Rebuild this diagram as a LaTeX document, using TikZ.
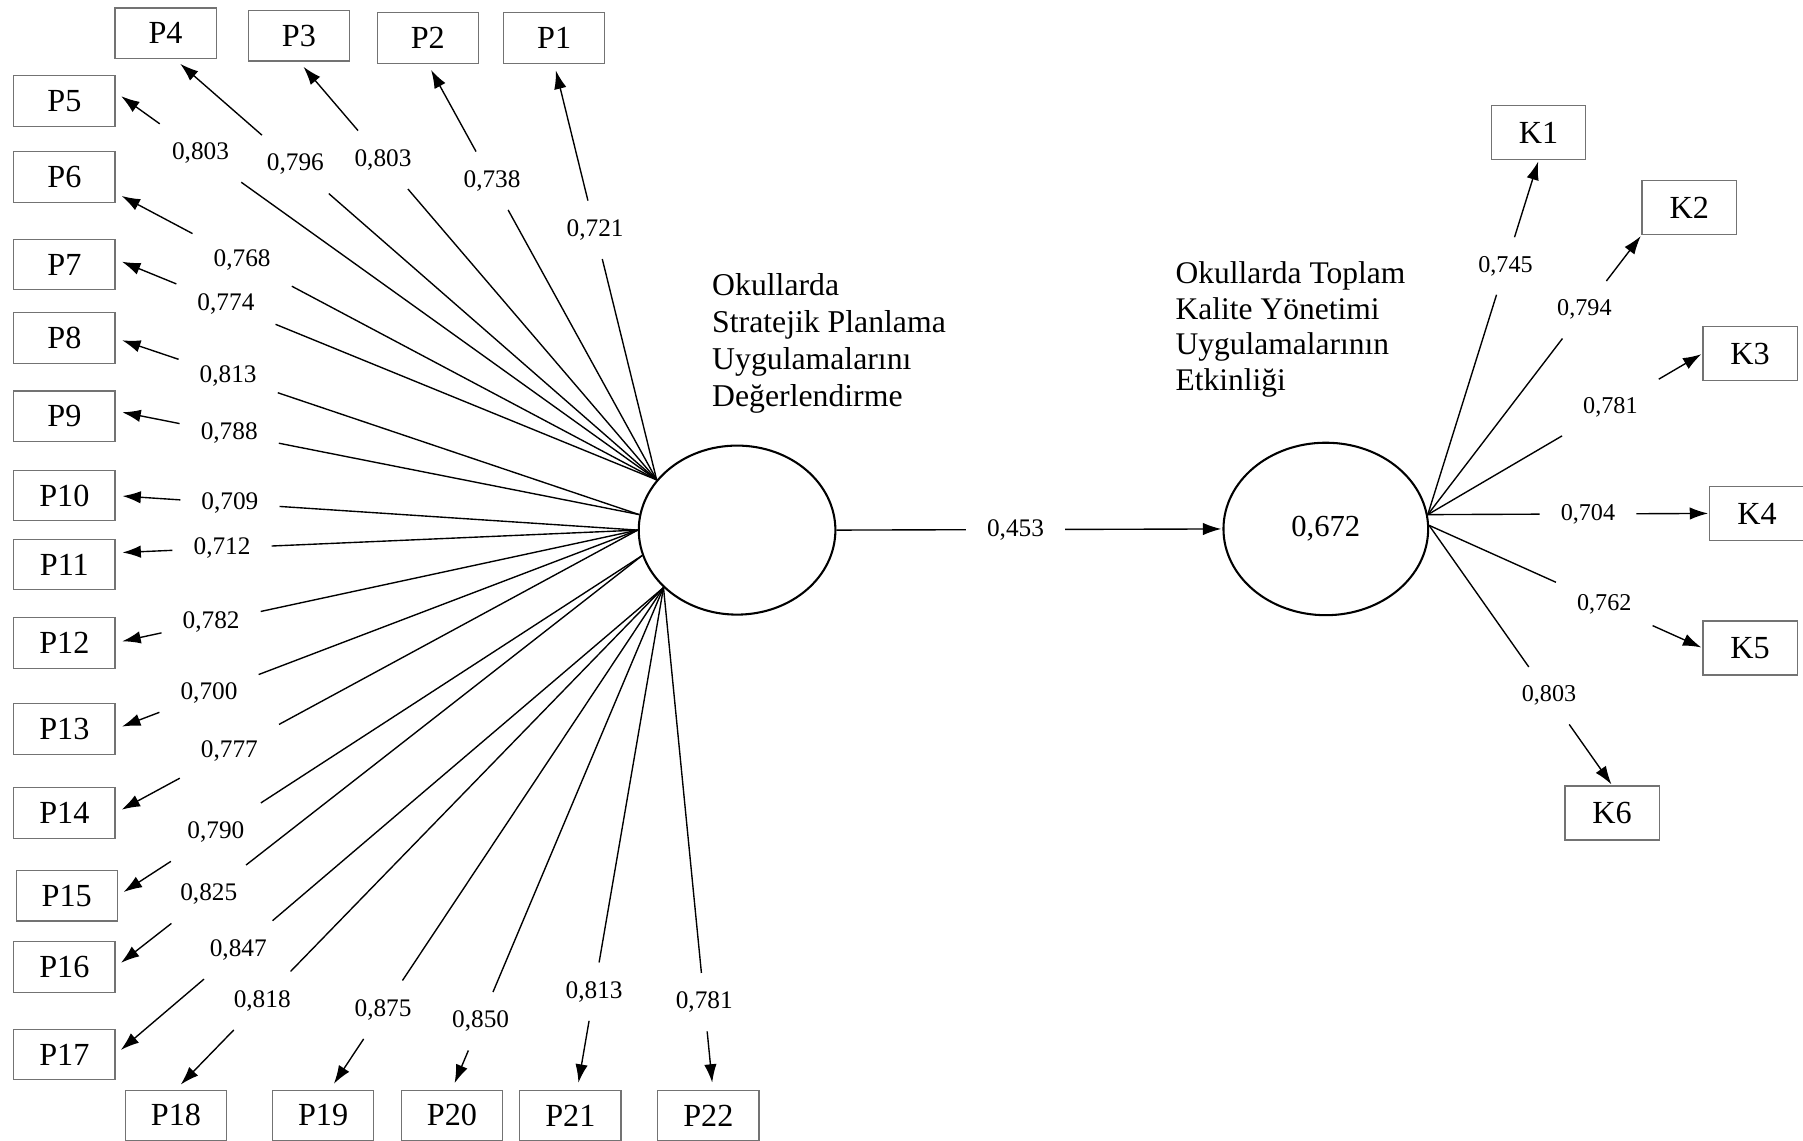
\documentclass[tikz,border=0pt]{standalone}
\usepackage{fontspec}
\setmainfont{Liberation Serif}
\usetikzlibrary{arrows.meta, shapes.geometric, calc}

\begin{document}
\begin{tikzpicture}[
    x=0.5pt, y=-0.5pt,
    ind/.style={rectangle, draw=black!55, line width=0.5pt, minimum width=44pt,
                minimum height=22pt, inner sep=0pt, font=\fontsize{14}{16}\selectfont},
    kind/.style={ind, minimum width=41pt, minimum height=23.5pt},
    lat/.style={ellipse, draw, line width=0.9pt, inner sep=0pt},
    load/.style={inner xsep=9pt, inner ysep=8pt, font=\fontsize{11}{12}\selectfont},
    kload/.style={load, font=\fontsize{10.5}{12}\selectfont},
    ttl/.style={align=left, inner sep=0pt, anchor=north west},
    ln/.style={line width=0.6pt},
    arr/.style={ln, -{Latex[length=8pt, width=5.4pt]}, shorten >=3pt},
    karr/.style={arr, shorten >=0.5pt},
]
\useasboundingbox (0,0) rectangle (1568,992);

% Latent variables
\node[lat, minimum width=85.5pt, minimum height=73.5pt] (lv) at (641,461) {};
\node[lat, minimum width=89pt, minimum height=75pt, font=\fontsize{13.3}{15}\selectfont] (lv2) at (1153,460) {0,672};

\node[ttl, font=\fontsize{13.8}{16.2}\selectfont] (t1) at (619,237) {Okullarda\\Stratejik Planlama\\Uygulamalarını\\Değerlendirme};
\node[ttl, font=\fontsize{13.7}{15.5}\selectfont] (t2) at (1022,227) {Okullarda Toplam\\Kalite Yönetimi\\Uygulamalarının\\Etkinliği};

% Path
\node[load] (w0) at ($(lv.east)!.464!(lv2.west)$) {0,453};
\draw[ln] (lv.east) -- (w0);
\draw[karr] (w0) -- (lv2.west);

% Indicators P
\node[ind] (p1) at (482,33) {P1};
\node[ind] (p2) at (372,33) {P2};
\node[ind] (p3) at (260,31) {P3};
\node[ind] (p4) at (144,29) {P4};
\node[ind] (p5) at (56,88) {P5};
\node[ind] (p6) at (56,154) {P6};
\node[ind] (p7) at (56,230) {P7};
\node[ind] (p8) at (56,294) {P8};
\node[ind] (p9) at (56,362) {P9};
\node[ind] (p10) at (56,431) {P10};
\node[ind] (p11) at (56,491) {P11};
\node[ind] (p12) at (56,559) {P12};
\node[ind] (p13) at (56,634) {P13};
\node[ind] (p14) at (56,707) {P14};
\node[ind] (p15) at (58,779) {P15};
\node[ind] (p16) at (56,841) {P16};
\node[ind] (p17) at (56,917) {P17};
\node[ind] (p18) at (153,970) {P18};
\node[ind] (p19) at (281,970) {P19};
\node[ind] (p20) at (393,970) {P20};
\node[ind] (p21) at (496,970) {P21};
\node[ind] (p22) at (616,970) {P22};

% Loadings P
\node[load] (w1) at ($(lv.148)!.601!(p1.south)$) {0,721};
\draw[ln] (lv.148) -- (w1);
\draw[arr] (w1) -- (p1.south);
\node[load] (w2) at ($(lv.148)!.719!(p2.south)$) {0,738};
\draw[ln] (lv.148) -- (w2);
\draw[arr] (w2) -- (p2.south);
\node[load] (w3) at ($(lv.148)!.765!(p3.south)$) {0,803};
\draw[ln] (lv.148) -- (w3);
\draw[arr] (w3) -- (p3.south);
\node[load] (w4) at ($(lv.148)!.750!(p4.-70)$) {0,796};
\draw[ln] (lv.148) -- (w4);
\draw[arr] (w4) -- (p4.-70);
\node[load] (w5) at ($(lv.148)!.843!(p5.10)$) {0,803};
\draw[ln] (lv.148) -- (w5);
\draw[arr] (w5) -- (p5.10);
\node[load] (w6) at ($(lv.148)!.766!(p6.-17)$) {0,768};
\draw[ln] (lv.148) -- (w6);
\draw[arr] (w6) -- (p6.-17);
\node[load] (w7) at ($(lv.148)!.796!(p7.6)$) {0,774};
\draw[ln] (lv.148) -- (w7);
\draw[arr] (w7) -- (p7.6);
\node[load] (w8) at ($(lv.171)!.785!(p8.east)$) {0,813};
\draw[ln] (lv.171) -- (w8);
\draw[arr] (w8) -- (p8.east);
\node[load] (w9) at ($(lv.171)!.783!(p9.6)$) {0,788};
\draw[ln] (lv.171) -- (w9);
\draw[arr] (w9) -- (p9.6);
\node[load] (w10) at ($(lv.180)!.781!(p10.east)$) {0,709};
\draw[ln] (lv.180) -- (w10);
\draw[arr] (w10) -- (p10.east);
\node[load] (w11) at ($(lv.180)!.796!(p11.13)$) {0,712};
\draw[ln] (lv.180) -- (w11);
\draw[arr] (w11) -- (p11.13);
\node[load] (w12) at ($(lv.180)!.817!(p12.east)$) {0,782};
\draw[ln] (lv.180) -- (w12);
\draw[arr] (w12) -- (p12.east);
\node[load] (w13) at ($(lv.180)!.821!(p13.east)$) {0,700};
\draw[ln] (lv.180) -- (w13);
\draw[arr] (w13) -- (p13.east);
\node[load] (w14) at ($(lv.180)!.782!(p14.east)$) {0,777};
\draw[ln] (lv.180) -- (w14);
\draw[arr] (w14) -- (p14.east);
\node[load] (w15) at ($(lv.195)!.813!(p15.east)$) {0,790};
\draw[ln] (lv.195) -- (w15);
\draw[arr] (w15) -- (p15.east);
\node[load] (w16) at ($(lv.195)!.823!(p16.east)$) {0,825};
\draw[ln] (lv.195) -- (w16);
\draw[arr] (w16) -- (p16.east);
\node[load] (w17) at ($(lv.218)!.776!(p17.east)$) {0,847};
\draw[ln] (lv.218) -- (w17);
\draw[arr] (w17) -- (p17.east);
\node[load] (w18) at ($(lv.218)!.823!(p18.north)$) {0,818};
\draw[ln] (lv.218) -- (w18);
\draw[arr] (w18) -- (p18.north);
\node[load] (w19) at ($(lv.218)!.841!(p19.75)$) {0,875};
\draw[ln] (lv.218) -- (w19);
\draw[arr] (w19) -- (p19.75);
\node[load] (w20) at ($(lv.218)!.864!(p20.north)$) {0,850};
\draw[ln] (lv.218) -- (w20);
\draw[arr] (w20) -- (p20.north);
\node[load] (w21) at ($(lv.218)!.805!(p21.75)$) {0,813};
\draw[ln] (lv.218) -- (w21);
\draw[arr] (w21) -- (p21.75);
\node[load] (w22) at ($(lv.218)!.826!(p22.80)$) {0,781};
\draw[ln] (lv.218) -- (w22);
\draw[arr] (w22) -- (p22.80);

% Indicators K
\node[kind] (k1) at (1338,115.5) {K1};
\node[kind] (k2) at (1469,180.5) {K2};
\node[kind] (k3) at (1522,307.5) {K3};
\node[kind] (k4) at (1528,446.5) {K4};
\node[kind] (k5) at (1522,563.5) {K5};
\node[kind] (k6) at (1402,707) {K6};

% Loadings K
\node[kload] (v1) at ($(lv2.8)!.702!(k1.south)$) {0,745};
\draw[ln] (lv2.8) -- (v1);
\draw[karr] (v1) -- (k1.south);
\node[kload] (v2) at ($(lv2.8)!.733!(k2.south west)$) {0,794};
\draw[ln] (lv2.8) -- (v2);
\draw[karr] (v2) -- (k2.south west);
\node[kload] (v3) at ($(lv2.8)!.665!(k3.west)$) {0,781};
\draw[ln] (lv2.8) -- (v3);
\draw[karr] (v3) -- (k3.west);
\node[kload] (v4) at ($(lv2.8)!.569!(k4.west)$) {0,704};
\draw[ln] (lv2.8) -- (v4);
\draw[karr] (v4) -- (k4.west);
\node[kload] (v5) at ($(lv2.2)!.641!(k5.west)$) {0,762};
\draw[ln] (lv2.2) -- (v5);
\draw[karr] (v5) -- (k5.west);
\node[kload] (v6) at ($(lv2.2)!.655!(k6.north)$) {0,803};
\draw[ln] (lv2.2) -- (v6);
\draw[karr] (v6) -- (k6.north);

\end{tikzpicture}
\end{document}
